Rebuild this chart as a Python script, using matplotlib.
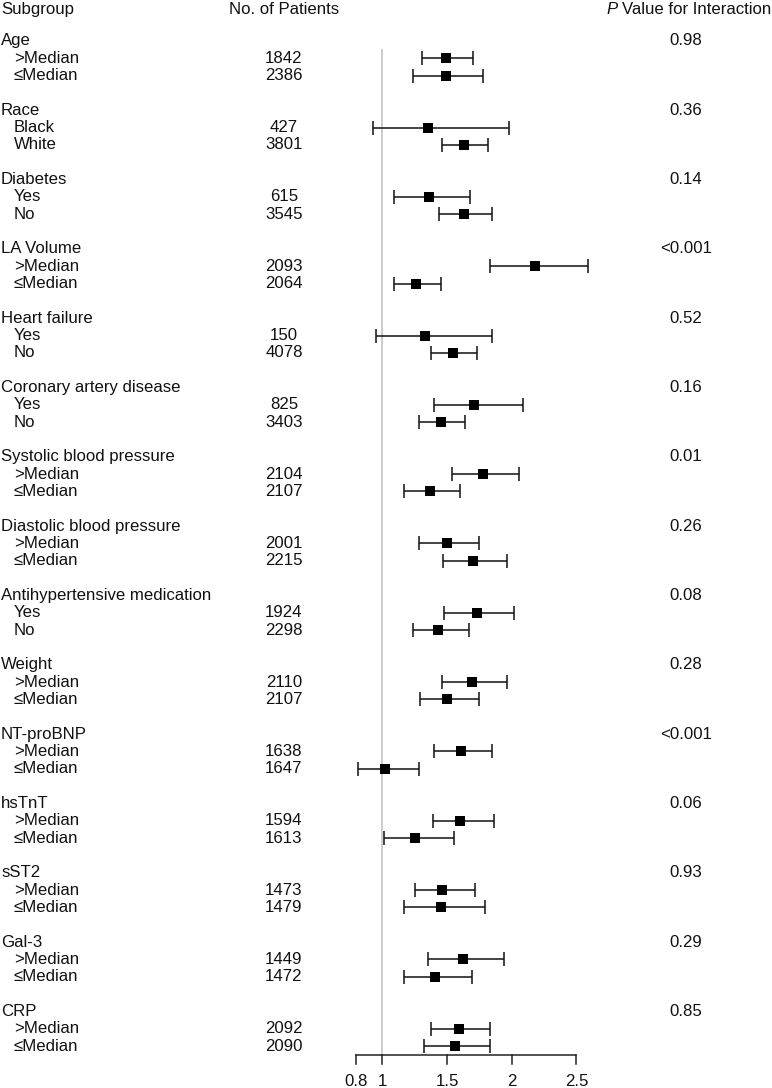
import matplotlib
matplotlib.use('Agg')
import matplotlib.pyplot as plt
import numpy as np
from matplotlib.transforms import blended_transform_factory

plt.rcParams['font.family'] = ['Liberation Sans', 'DejaVu Sans']

# ---------------- data ----------------
groups = ["Age", "Race", "Diabetes", "LA Volume", "Heart failure",
          "Coronary artery disease", "Systolic blood pressure",
          "Diastolic blood pressure", "Antihypertensive medication",
          "Weight", "NT-proBNP", "hsTnT", "sST2", "Gal-3", "CRP"]
p_values = ["0.98", "0.36", "0.14", "<0.001", "0.52", "0.16", "0.01",
            "0.26", "0.08", "0.28", "<0.001", "0.06", "0.93", "0.29", "0.85"]
sub_labels = [">Median", "\u2264Median", "Black", "White", "Yes", "No",
              ">Median", "\u2264Median", "Yes", "No", "Yes", "No",
              ">Median", "\u2264Median", ">Median", "\u2264Median",
              "Yes", "No", ">Median", "\u2264Median", ">Median", "\u2264Median",
              ">Median", "\u2264Median", ">Median", "\u2264Median",
              ">Median", "\u2264Median", ">Median", "\u2264Median"]
n_patients = ["1842", "2386", "427", "3801", "615", "3545", "2093", "2064",
              "150", "4078", "825", "3403", "2104", "2107", "2001", "2215",
              "1924", "2298", "2110", "2107", "1638", "1647", "1594", "1613",
              "1473", "1479", "1449", "1472", "2092", "2090"]
estimate = [1.49, 1.49, 1.35, 1.63, 1.36, 1.63, 2.18, 1.26, 1.33, 1.55,
            1.71, 1.45, 1.78, 1.37, 1.50, 1.70, 1.73, 1.43, 1.69, 1.50,
            1.61, 1.02, 1.60, 1.25, 1.46, 1.45, 1.62, 1.41, 1.59, 1.56]
ci_low = [1.31, 1.24, 0.93, 1.46, 1.09, 1.44, 1.83, 1.09, 0.95, 1.38,
          1.40, 1.28, 1.54, 1.17, 1.28, 1.47, 1.48, 1.24, 1.46, 1.29,
          1.40, 0.815, 1.39, 1.01, 1.25, 1.17, 1.35, 1.17, 1.38, 1.32]
ci_high = [1.70, 1.78, 1.98, 1.82, 1.68, 1.85, 2.59, 1.45, 1.85, 1.73,
           2.09, 1.64, 2.06, 1.60, 1.75, 1.96, 2.02, 1.67, 1.96, 1.75,
           1.85, 1.28, 1.86, 1.555, 1.715, 1.79, 1.94, 1.69, 1.83, 1.83]
tick_values = [0.8, 1, 1.5, 2, 2.5]
tick_labels = ["0.8", "1", "1.5", "2", "2.5"]

# ---------------- layout ----------------
W, H = 772, 1088
fig = plt.figure(figsize=(W / 100, H / 100), dpi=100)
ax = fig.add_axes([0, 0, 1, 1])
px_one, px_unit = 382.3, 129.4
ax.set_xlim(1 - px_one / px_unit, 1 + (W - px_one) / px_unit)
row_px, row0_px = 17.33, 40.9
ax.set_ylim((H - row0_px) / row_px, -row0_px / row_px)
ax.axis('off')

tr = blended_transform_factory(ax.transAxes, ax.transData)
fs = 12.1
tc = '#111111'

# header
hdr = -1.8
ax.text(1 / W, hdr, "Subgroup", transform=tr, ha='left', va='center', fontsize=fs, color=tc)
ax.text(284 / W, hdr, "No. of Patients", transform=tr, ha='center', va='center', fontsize=fs, color=tc)
t = ax.text(771 / W, hdr, "Value for Interaction", transform=tr, ha='right', va='center',
            fontsize=fs, color=tc)
ax.annotate("P", xy=(0, 0.5), xycoords=t, xytext=(-3.3, 0), textcoords='offset points',
            ha='right', va='center', fontsize=fs, style='italic', color=tc)

rows = []
for g, name in enumerate(groups):
    r = 4 * g
    ax.text(1 / W, r, name, transform=tr, ha='left', va='center', fontsize=fs, color=tc)
    ax.text(686 / W, r, p_values[g], transform=tr, ha='center', va='center', fontsize=fs, color=tc)
    for k in range(2):
        i = 2 * g + k
        rr = r + 1 + k
        rows.append(rr)
        ax.text(14 / W, rr, sub_labels[i], transform=tr, ha='left', va='center', fontsize=fs, color=tc)
        ax.text(284 / W, rr, n_patients[i], transform=tr, ha='center', va='center', fontsize=fs, color=tc)

rows = np.array(rows, dtype=float)
est = np.array(estimate)
lo = np.array(ci_low)
hi = np.array(ci_high)

axis_row = (1055.3 - row0_px) / row_px
tick_end = (1063.5 - row0_px) / row_px
label_row = (1081.5 - row0_px) / row_px

# reference line
ax.vlines(1, (49 - row0_px) / row_px, axis_row, color='#c4c4c4', lw=1.2, zorder=1)

ax.errorbar(est, rows, xerr=[est - lo, hi - est], fmt='none', ecolor='#111111',
            capsize=4.8, elinewidth=1.1, capthick=1.1, zorder=3)
ax.plot(est, rows, 's', color='black', ms=7.2, mew=0, zorder=4)

# x axis
ax.plot([tick_values[0], tick_values[-1]], [axis_row, axis_row], color='#222222', lw=1.1)
for v, lab in zip(tick_values, tick_labels):
    ax.plot([v, v], [axis_row, tick_end], color='#222222', lw=1.1)
    ax.text(v, label_row, lab, ha='center', va='center', fontsize=fs, color=tc)

fig.savefig("out.png", dpi=100)
